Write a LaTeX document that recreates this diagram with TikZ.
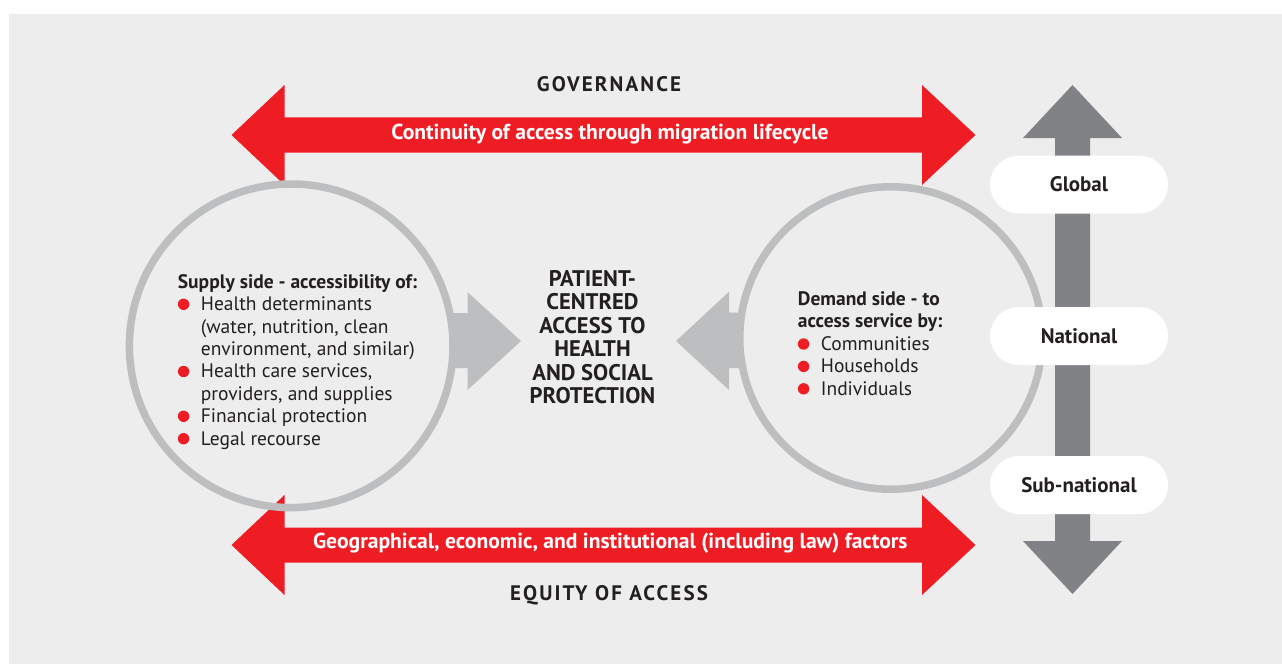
\documentclass[tikz,border=0pt]{standalone}
\usepackage{fontspec}
\setmainfont{PT Sans}
\newfontfamily\trackfont{PT Sans}[LetterSpace=10]
\definecolor{bgc}{HTML}{EDEDED}
\definecolor{redc}{HTML}{EE1D24}
\definecolor{ringc}{HTML}{BCBEC0}
\definecolor{darkc}{HTML}{808285}
\definecolor{txtc}{HTML}{231F20}
\newcommand{\rbul}{\makebox[23pt][l]{\raisebox{0.6pt}{\tikz\fill[redc] (0,0) circle (5.7pt);}}}
\newcommand{\rind}{\hspace*{23pt}}
\begin{document}
\begin{tikzpicture}[x=1pt,y=-1pt,
  ring/.style={circle, draw=ringc, line width=7.5pt, inner sep=0pt},
  pill/.style={rectangle, fill=white, rounded corners=29pt, minimum width=178pt, minimum height=58pt, text=txtc, font=\fontsize{21}{25}\selectfont\bfseries},
  banner/.style={text=white, font=\fontsize{21.6}{25}\selectfont\bfseries, inner sep=0pt},
  caption/.style={text=txtc, font=\fontsize{21}{25}\selectfont\trackfont\bfseries, inner sep=0pt},
  bodytext/.style={text=txtc, align=left, inner sep=0pt, font=\fontsize{19.5}{22.4}\selectfont},
  centretext/.style={text=txtc, align=center, inner sep=0pt, font=\fontsize{22.6}{23.5}\selectfont\bfseries}
]
\useasboundingbox (0,0) rectangle (1282,664);
\fill[bgc] (9,14) rectangle (1282,664);

% red arrows
\fill[redc] (231.5,135) -- (284.5,85) -- (284.5,117.3) -- (922,117.3) -- (922,85) -- (975.5,135) -- (922,185) -- (922,152.5) -- (284.5,152.5) -- (284.5,185) -- cycle;
\fill[redc] (231.5,545) -- (284.5,495) -- (284.5,527.5) -- (922,527.5) -- (922,495) -- (975.5,545) -- (922,595) -- (922,562.5) -- (284.5,562.5) -- (284.5,595) -- cycle;

% light grey arrows
\fill[ringc] (453,313) -- (467.5,313) -- (467.5,292) -- (521,341) -- (467.5,390) -- (467.5,368) -- (453,368) -- cycle;
\fill[ringc] (740,312.7) -- (729,312.7) -- (729,291.7) -- (676,341) -- (729,390) -- (729,368) -- (740,368) -- cycle;

% vertical dark arrow
\fill[darkc] (1055,138) -- (1023,138) -- (1072.5,85) -- (1122,138) -- (1090,138) -- (1090,541) -- (1122,541) -- (1072.5,594) -- (1023,541) -- (1055,541) -- cycle;

% circles
\node[ring, minimum size=323.6pt] (supply) at (291.2,345.8) {};
\node[ring, minimum size=302.5pt] (demand) at (891,338) {};

% pills
\node[pill] (global) at (1079,184.5) {Global};
\node[pill] (national) at (1079,336) {National};
\node[pill] (subnational) at (1079,485) {Sub-national};

% texts
\node[caption] (gov) at (609,84) {GOVERNANCE};
\node[caption] (equity) at (609,595) {EQUITY OF ACCESS};
\node[banner] (cont) at (610,134) {Continuity of access through migration lifecycle};
\node[banner] (geo) at (610.3,543) {Geographical, economic, and institutional (including law) factors};

\node[centretext] (centre) at (592.5,337) {PATIENT-\\CENTRED\\ACCESS TO\\HEALTH\\AND SOCIAL\\PROTECTION};

\node[bodytext, anchor=west] (supplytext) at (177.7,361.7) {\textbf{Supply side - accessibility of:}\\
\rbul Health determinants\\
\rind (water, nutrition, clean\\
\rind environment, and similar)\\
\rbul Health care services,\\
\rind providers, and supplies\\
\rbul Financial protection\\
\rbul Legal recourse};

\node[bodytext, anchor=west] (demandtext) at (797.7,343.5) {\textbf{Demand side - to}\\
\textbf{access service by:}\\
\rbul Communities\\
\rbul Households\\
\rbul Individuals};
\end{tikzpicture}
\end{document}
